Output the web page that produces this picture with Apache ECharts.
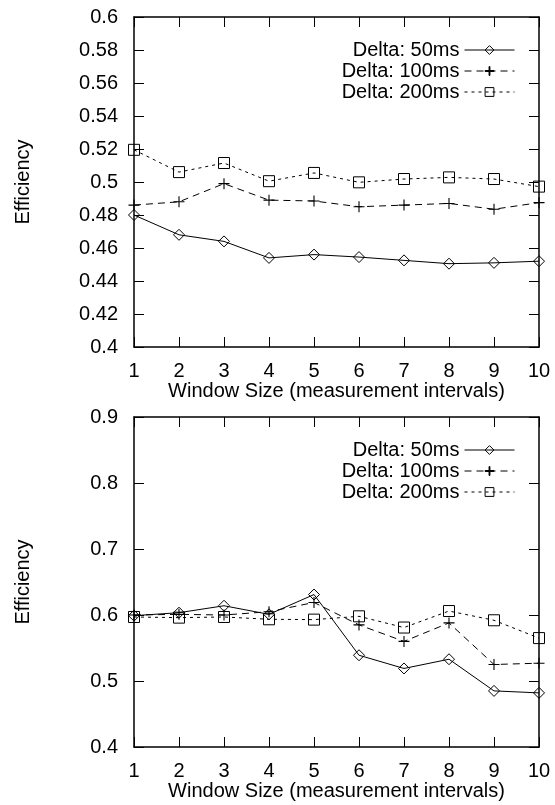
<!DOCTYPE html>
<html><head><meta charset="utf-8">
<script src="https://cdn.jsdelivr.net/npm/echarts@6/dist/echarts.min.js"></script>
<style>html,body{margin:0;padding:0;background:#fff}#c{width:555px;height:805px}</style>
</head><body><div id="c"></div>
<script>
const windowSizes = [1,2,3,4,5,6,7,8,9,10];
const seriesNames = ['Delta: 50ms','Delta: 100ms','Delta: 200ms'];
const top50  = [0.480,0.468,0.464,0.454,0.456,0.4545,0.4525,0.4505,0.451,0.452];
const top100 = [0.486,0.488,0.499,0.489,0.4885,0.485,0.486,0.487,0.4835,0.4875];
const top200 = [0.5195,0.506,0.5115,0.5005,0.5055,0.4998,0.5018,0.5028,0.5018,0.4972];
const bot50  = [0.599,0.6035,0.614,0.601,0.631,0.539,0.519,0.533,0.485,0.482];
const bot100 = [0.600,0.601,0.600,0.605,0.619,0.585,0.560,0.588,0.525,0.527];
const bot200 = [0.597,0.596,0.597,0.5935,0.593,0.598,0.581,0.606,0.592,0.565];
const xTitle = 'Window Size (measurement intervals)';
const yTitle = 'Efficiency';

const FONT = 'Liberation Sans';
const FS = 20;
const plus = 'path://M4.5,0h1v4.5h4.5v1h-4.5v4.5h-1v-4.5h-4.5v-1h4.5z';
const styles = [
  {symbol:'diamond', symbolSize:[11,11], type:'solid'},
  {symbol:plus, symbolSize:[11,11], type:[7,5]},
  {symbol:'rect', symbolSize:[11,11], type:[3,4]}
];
function mk(data, i, gi){
  const s = styles[i];
  return {
    name: seriesNames[i], type:'line', xAxisIndex:gi*2, yAxisIndex:gi*2,
    data: windowSizes.map((x,k)=>[x,data[k]]),
    symbol: s.symbol, symbolSize: s.symbolSize, showAllSymbol:true,
    lineStyle:{color:'#000', width:1, type:s.type},
    itemStyle:{color: i===1 ? '#000' : 'rgba(255,255,255,0)', borderColor:'#000', borderWidth: i===1?0:1},
    emphasis:{disabled:true}, animation:false, clip:false, z: 3
  };
}
const axisLine = {show:true, lineStyle:{color:'#000', width:1.5}};
const tick = {show:true, inside:true, length:10, lineStyle:{color:'#000',width:1}};
function axesFor(gi, ymin, ymax, yint){
  const xs = [
    {type:'value', gridIndex:gi, min:1, max:10, interval:1, position:'bottom',
     axisLine, axisTick:tick,
     axisLabel:{color:'#000', fontFamily:FONT, fontSize:FS, margin:14},
     splitLine:{show:false}, name:xTitle, nameLocation:'middle', nameGap:33,
     nameTextStyle:{color:'#000', fontFamily:FONT, fontSize:FS}},
    {type:'value', gridIndex:gi, min:1, max:10, interval:1, position:'top',
     axisLine, axisTick:tick, axisLabel:{show:false}, splitLine:{show:false}}
  ];
  const ys = [
    {type:'value', gridIndex:gi, min:ymin, max:ymax, interval:yint, position:'left',
     axisLine, axisTick:tick,
     axisLabel:{color:'#000', fontFamily:FONT, fontSize:FS, margin:16},
     splitLine:{show:false}, name:yTitle, nameLocation:'middle', nameGap:101, nameRotate:90,
     nameTextStyle:{color:'#000', fontFamily:FONT, fontSize:FS}},
    {type:'value', gridIndex:gi, min:ymin, max:ymax, interval:yint, position:'right',
     axisLine, axisTick:tick, axisLabel:{show:false}, splitLine:{show:false}}
  ];
  return {xs, ys};
}
const a0 = axesFor(0, 0.4, 0.6, 0.02);
const a1 = axesFor(1, 0.4, 0.9, 0.1);
const series = [
  mk(top50,0,0), mk(top100,1,0), mk(top200,2,0),
  mk(bot50,0,1), mk(bot100,1,1), mk(bot200,2,1)
];
function legend(top){
  return {
    show:true, orient:'vertical', right:40, top:top, align:'right', padding:0,
    itemWidth:50, itemHeight:11, itemGap:1,
    data: seriesNames,
    lineStyle:{width:1},
    itemStyle:{borderWidth:1},
    textStyle:{color:'#000', fontFamily:FONT, fontSize:FS},
    selectedMode:false
  };
}
const opt = {
  backgroundColor:'#fff', animation:false,
  grid:[
    {left:134, right:16, top:17, height:330},
    {left:134, right:16, top:417, height:330}
  ],
  xAxis:[a0.xs[0], a0.xs[1], a1.xs[0], a1.xs[1]],
  yAxis:[a0.ys[0], a0.ys[1], a1.ys[0], a1.ys[1]],
  legend:[legend(40), legend(440)],
  series
};
const chart = echarts.init(document.getElementById('c'), null, {renderer:'canvas'});
chart.setOption(opt);
</script></body></html>
